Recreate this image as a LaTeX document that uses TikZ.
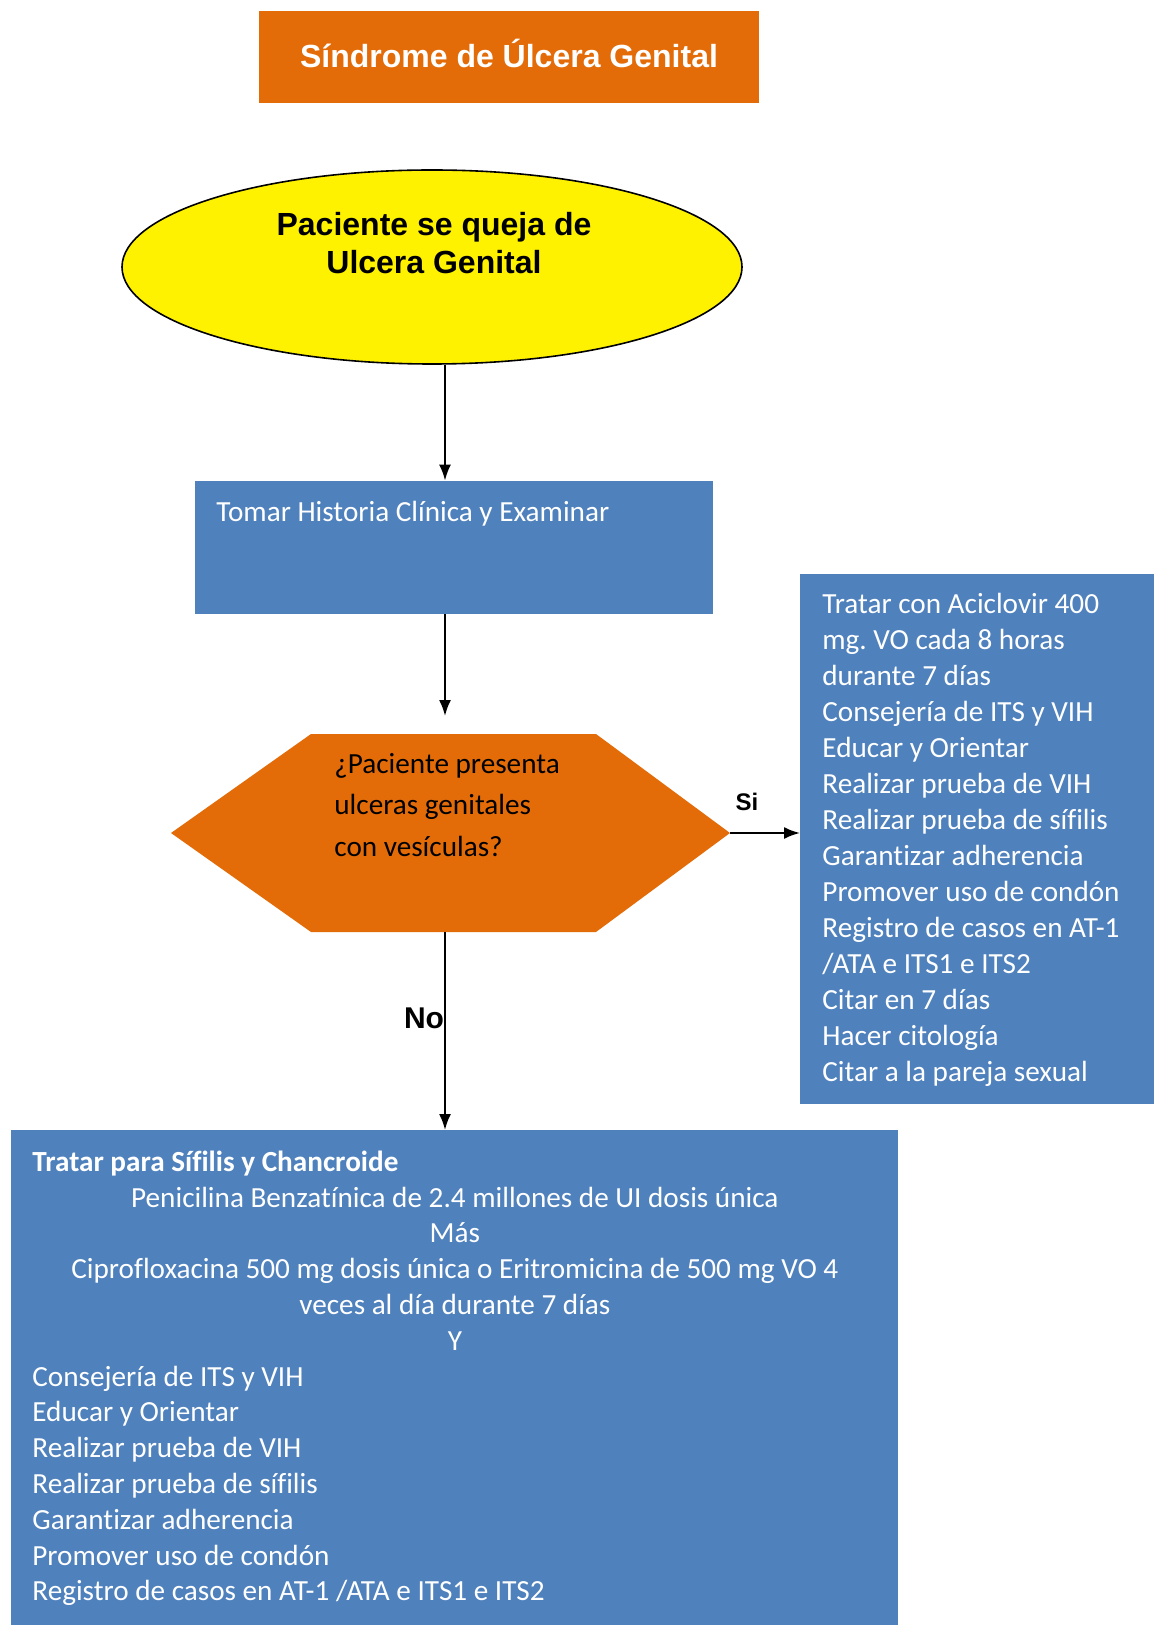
\documentclass[tikz,border=0pt]{standalone}
\usepackage{fontspec}
\setmainfont{Carlito}[Ligatures=NoCommon]
\newfontfamily\arialfont{Liberation Sans}
\usetikzlibrary{shapes.geometric,arrows.meta}
\definecolor{naranja}{HTML}{E36C09}
\definecolor{azul}{HTML}{4F81BD}
% espacios normales de Carlito dentro de nodos con align
\newcommand\espacios{\spaceskip=0pt\xspaceskip=0pt\frenchspacing}

\begin{document}
\begin{tikzpicture}[x=0.5pt,y=-0.5pt,
  caja/.style={fill=azul,text=white},
  letra/.style={inner sep=0pt,font=\fontsize{14.6}{18}\selectfont},
  flecha/.style={-{Latex[length=8pt,width=6pt]},line width=1pt}]
\useasboundingbox (0,0) rectangle (1155,1625);

\node[fill=naranja,text=white,minimum width=250pt,minimum height=46pt,text height=11.5pt,text depth=1pt,font=\arialfont\bfseries\fontsize{16}{19}\selectfont] (titulo) at (509,57) {Síndrome de Úlcera Genital};

\node[ellipse,draw,fill=yellow,line width=0.8pt,minimum width=310pt,minimum height=97pt] (paciente) at (432,267) {};
\node[align=center,font=\arialfont\bfseries\fontsize{16}{19.2}\selectfont] (queja) at (434,243) {Paciente se queja de\\Ulcera Genital};

\node[caja,minimum width=259pt,minimum height=66.5pt] (historia) at (454,547.5) {};
\node[letra,text=white,anchor=west] (tomar) at (216,514) {Tomar Historia Clínica y Examinar};

\fill[naranja] (171,833) -- (311,734) -- (596,734) -- (730,833) -- (596,932) -- (311,932) -- cycle;
\coordinate (hexarriba) at (445,716);
\coordinate (hexder) at (730,833);
\coordinate (hexabajo) at (445,932);
\node[letra,anchor=west,align=left,font=\fontsize{14.6}{20.75}\selectfont] (pregunta) at (334,805) {\espacios ¿Paciente presenta\\ulceras genitales\\con vesículas?};

\node[caja,letra,anchor=north west,text width=155pt,inner xsep=11pt,minimum height=265pt,align=left] (aciclovir) at (800,574) {\espacios Tratar con Aciclovir 400\\mg. VO cada 8 horas\\durante 7 días\\Consejería de ITS y VIH\\Educar y Orientar\\Realizar prueba de VIH\\Realizar prueba de sífilis\\Garantizar adherencia\\Promover uso de condón\\Registro de casos en AT-1\\/ATA e ITS1 e ITS2\\Citar en 7 días\\Hacer citología\\Citar a la pareja sexual};

\node[caja,letra,anchor=north west,text width=422.5pt,inner xsep=10.5pt,minimum height=248pt,align=left,font=\fontsize{14.6}{17.9}\selectfont] (tratamiento) at (11,1130) {\espacios {\bfseries Tratar para Sífilis y Chancroide}\\
\makebox[\linewidth]{Penicilina Benzatínica de 2.4 millones de UI dosis única}\\
\makebox[\linewidth]{Más}\\
\makebox[\linewidth]{Ciprofloxacina 500 mg dosis única o Eritromicina de 500 mg VO 4}\\
\makebox[\linewidth]{veces al día durante 7 días}\\
\makebox[\linewidth]{Y}\\
Consejería de ITS y VIH\\Educar y Orientar\\Realizar prueba de VIH\\Realizar prueba de sífilis\\Garantizar adherencia\\Promover uso de condón\\Registro de casos en AT-1 /ATA e ITS1 e ITS2};

\node[font=\arialfont\bfseries\fontsize{12}{14}\selectfont] (si) at (747,802) {Si};
\node[font=\arialfont\bfseries\fontsize{15}{18}\selectfont] (no) at (424,1018) {No};

\draw[flecha] (paciente.south -| hexabajo) -- (historia.north -| hexabajo);
\draw[flecha] (historia.south -| hexabajo) -- (hexarriba);
\draw[flecha] (hexder) -- (hexder -| aciclovir.west);
\draw[flecha] (hexabajo) -- (hexabajo |- tratamiento.north);
\end{tikzpicture}
\end{document}
